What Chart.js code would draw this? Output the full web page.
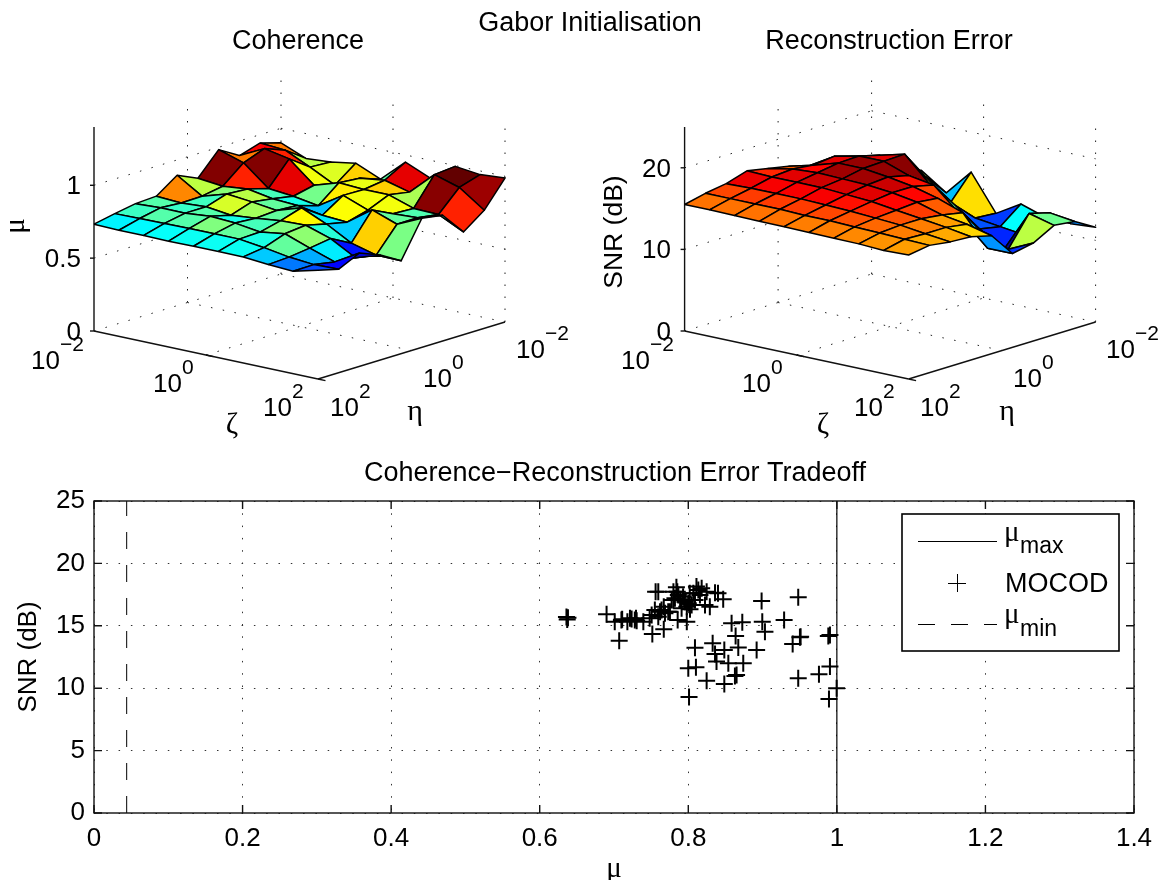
<!DOCTYPE html>
<html>
<head>
<meta charset="utf-8">
<script src="https://cdn.jsdelivr.net/npm/chart.js@4/dist/chart.umd.min.js"></script>
<style>
  html, body { margin: 0; padding: 0; background: #fff; }
  #page { position: relative; width: 1165px; height: 880px; overflow: hidden; }
  canvas { position: absolute; left: 0; }
</style>
</head>
<body>
<div id="page">
  <canvas id="coherence" width="1165" height="450" style="top:0"></canvas>
  <canvas id="snr3d" width="1165" height="450" style="top:0"></canvas>
  <canvas id="tradeoff" width="1165" height="430" style="top:450px"></canvas>
</div>
<script>
// rows run from eta = 10^2 (front) to eta = 10^-2 (back), columns from zeta = 10^-2 to 10^2
const coherenceRows = [
  [.733, .728, .729, .726, .728, .729, .728, .712, .703, .747],
  [.762, .765, .768, .770, .770, .770, .748, .720, .705, .710],
  [.787, .795, .795, .810, .800, .775, .800, .738, .680, .778],
  [.795, .785, .795, .774, .790, .810, .815, .760, .665, .720],
  [.895, .788, .840, .822, .800, .855, .780, .685, .640, .637],
  [.831, .813, .830, .800, .790, .760, .749, .870, .808, .886],
  [.984, .930, .790, .774, .745, .853, .788, .800, .810, .863],
  [.900, .984, .950, .806, .860, .850, .850, .793, .788, .705],
  [.943, .930, .850, .763, .847, .870, .825, .982, .930, .810],
  [.900, .830, .842, .870, .797, .950, .877, .995, .975, .988]
];
const snrRows = [
  [15.5, 15.5, 15.45, 15.4, 15.4, 15.35, 15.3, 15.25, 15.1, 15.2],
  [16.1, 16.1, 16.1, 16.1, 16.0, 16.0, 15.9, 15.8, 15.7, 15.6],
  [16.5, 16.6, 16.6, 16.6, 16.5, 16.4, 16.2, 16.0, 15.6, 15.25],
  [17.3, 17.2, 17.2, 17.2, 17.0, 16.8, 16.4, 16.0, 15.6, 15.1],
  [16.8, 17.4, 17.6, 17.5, 17.4, 17.1, 16.6, 15.7, 15.2, 14.45],
  [16.3, 17.1, 18.0, 18.0, 17.6, 17.1, 16.3, 15.2, 11.5, 11.5],
  [15.6, 17.4, 18.1, 18.1, 17.0, 16.5, 13.75, 11.8, 10.6, 12.0],
  [15.0, 16.6, 17.4, 18.2, 15.2, 13.3, 11.0, 9.2, 14.2, 13.4],
  [14.0, 14.0, 14.2, 14.66, 12.1, 10.9, 10.5, 10.1, 13.5, 13.1],
  [14.0, 14.0, 14.0, 11.9, 15.1, 10.7, 12.5, 11.5, 11.4, 11.6]
];
const coherenceTicks = [0, 0.5, 1];
const snrTicks = [0, 10, 20];

const mocodMu = [.636, .637, .638, .690, .711, .701, .718, .7215, .7296, .7305, .7395, .748, .7507, .755, .762, .767, .773,
  .756, .7596, .784, .780, .7866, .780, .789, .7955, .798, .8045, .811, .8135, .8157, .8225, .829, .836, .840, .847,
  .802, .793, .809, .782, .764, .7596, .728, .7237, .710, .707, .7516, .767, .7857, .798, .8987, .948, .8727, .8583,
  .8996, .929, .8637, .9032, .9503, .9512, .9405, .9885, .9907, .8328, .809, .8673, .892, .8485, .836, .838, .8539,
  .874, .800, .8103, .865, .8628, .8247, .8485, .948, .9759, .9907, .9997, .9894, .801,
  .7776, .7852, .800, .8068, .818, .8247, .791, .8023, .7753, .7686];
const mocodSnr = [15.7, 15.5, 15.65, 15.92, 15.52, 15.33, 15.33, 15.6, 15.6, 15.41, 15.33, 15.6, 15.86, 16.27, 16.13, 16.53, 16.13,
  17.73, 17.73, 18.08, 17.73, 17.47, 17.07, 17.07, 16.93, 16.53, 16.67, 18.14, 17.87, 17.47, 16.67, 16.53, 17.65, 17.6, 17.12,
  17.6, 17.33, 17.07, 17.2, 16.27, 15.73, 15.46, 15.55, 15.46, 13.81, 14.34, 14.72, 15.46, 15.33, 16.99, 17.28, 15.28, 15.2,
  15.33, 15.46, 14.18, 14.53, 14.08, 14.13, 13.54, 14.18, 14.26, 13.6, 13.25, 13.27, 13.06, 13.06, 12.74, 12.13, 12.0,
  12.0, 11.59, 11.67, 11.06, 10.98, 10.6, 10.34, 10.79, 11.11, 11.73, 9.99, 9.13, 9.3,
  17.07, 17.73, 16.8, 17.6, 18.0, 17.73, 16.4, 16.32, 16.13, 16.0];
const muMax = 1.0;
const muMin = 0.044;
const xTicks = [0, 0.2, 0.4, 0.6, 0.8, 1, 1.2, 1.4];
const yTicks = [0, 5, 10, 15, 20, 25];

const SANS = '"Liberation Sans", Arial, sans-serif';
const SERIF = '"Liberation Serif", serif';

function jet(t) {
  const c = v => Math.round(255 * Math.max(0, Math.min(1, v)));
  const r = c(1.5 - Math.abs(4 * t - 3));
  const g = c(1.5 - Math.abs(4 * t - 2));
  const b = c(1.5 - Math.abs(4 * t - 1));
  return 'rgb(' + r + ',' + g + ',' + b + ')';
}

function text(ctx, str, x, y, size, opts) {
  opts = opts || {};
  ctx.save();
  ctx.fillStyle = '#000';
  ctx.font = size + 'px ' + (opts.family || SANS);
  ctx.textAlign = opts.align || 'left';
  ctx.textBaseline = 'alphabetic';
  ctx.translate(x, y);
  if (opts.rotate) ctx.rotate(opts.rotate);
  ctx.fillText(str, 0, 0);
  ctx.restore();
}

function powerLabel(ctx, exp, x, y) {
  text(ctx, '10', x, y, 26);
  text(ctx, exp, x + 29, y - 18, 21);
}

// one 3D surface panel, axes are hidden and run in page pixels so the projection goes through the scales
function surfaceChart(id, rows, cfg) {
  const n = rows.length - 1;
  const project = (u, v, z) => ({
    x: cfg.left + (224 * u + 187 * v) / n,
    y: 331 + (48 * u - 57 * v) / n - 204 * z / cfg.zMax
  });
  const segment = (a, b, style) => Object.assign({
    data: [project(...a), project(...b)], fill: false, pointRadius: 0, borderColor: '#222', order: 1000
  }, style);
  const dotted = { borderWidth: 1, borderDash: [1.5, 10.5] };
  const solid = { borderWidth: 1.4, borderColor: '#111', order: 900 };

  const datasets = [];
  const zMax = cfg.zMax, mid = n / 2;
  [[[0, 0, 0], [0, n, 0]], [[0, n, 0], [n, n, 0]], [[mid, 0, 0], [mid, n, 0]], [[0, mid, 0], [n, mid, 0]],
   [[0, mid, 0], [0, mid, zMax]], [[0, n, 0], [0, n, zMax]], [[mid, n, 0], [mid, n, zMax]], [[n, n, 0], [n, n, zMax]]
  ].forEach(p => datasets.push(segment(p[0], p[1], dotted)));
  cfg.ticks.filter(t => t > 0).forEach(t => {
    datasets.push(segment([0, 0, t], [0, n, t], dotted));
    datasets.push(segment([0, n, t], [n, n, t], dotted));
  });
  datasets.push(segment([0, 0, 0], [0, 0, zMax], solid));
  datasets.push(segment([0, 0, 0], [n, 0, 0], solid));
  datasets.push(segment([n, 0, 0], [n, n, 0], solid));
  cfg.ticks.forEach(t => {
    const a = project(0, 0, t);
    datasets.push({ data: [{ x: a.x - 4, y: a.y }, a], fill: false, pointRadius: 0, borderColor: '#111', borderWidth: 1.4, order: 900 });
  });
  [[mid, 0], [n, 0]].forEach(p => datasets.push(segment([p[0], p[1], 0], [p[0] + 0.3, p[1], 0], solid)));

  // MATLAB colours a face from its low-zeta, low-eta corner, which is the far one on screen
  for (let j = 0; j < n; j++) {
    for (let i = 0; i < n; i++) {
      const corners = [[i, j], [i, j + 1], [i + 1, j + 1], [i + 1, j], [i, j]];
      const t = (rows[j + 1][i] - cfg.cMin) / (cfg.cMax - cfg.cMin);
      datasets.push({
        data: corners.map(c => project(c[0], c[1], rows[c[1]][c[0]])),
        fill: 'shape',
        backgroundColor: jet(t),
        borderColor: '#000',
        borderWidth: 1.5,
        borderJoinStyle: 'round',
        pointRadius: 0,
        tension: 0,
        order: 100 - (i - j)
      });
    }
  }

  const canvas = document.getElementById(id);
  return new Chart(canvas, {
    type: 'scatter',
    data: { datasets: datasets.map(d => Object.assign({ showLine: true, clip: false }, d)) },
    options: {
      responsive: false,
      animation: false,
      events: [],
      layout: { padding: 0 },
      plugins: { legend: { display: false }, tooltip: { enabled: false } },
      scales: {
        x: { type: 'linear', display: false, min: 0, max: canvas.width },
        y: { type: 'linear', display: false, min: 0, max: canvas.height, reverse: true }
      }
    },
    plugins: [{ id: 'panelText', afterDraw: chart => cfg.draw(chart.ctx, project) }]
  });
}

surfaceChart('coherence', coherenceRows, {
  left: 94, zMax: 1.4, ticks: coherenceTicks, cMin: 0.635, cMax: 0.985,
  draw(ctx, project) {
    text(ctx, 'Gabor Initialisation', 590, 31, 27, { align: 'center' });
    text(ctx, 'Coherence', 298, 49, 27, { align: 'center' });
    coherenceTicks.forEach(t => text(ctx, String(t), 81, project(0, 0, t).y + 9, 26, { align: 'right' }));
    powerLabel(ctx, '\u22122', 31, 369);
    powerLabel(ctx, '0', 153, 392);
    powerLabel(ctx, '2', 263, 416);
    powerLabel(ctx, '2', 330, 416);
    powerLabel(ctx, '0', 423, 387);
    powerLabel(ctx, '\u22122', 516, 358);
    text(ctx, '\u03b6', 232, 433, 30, { family: SERIF, align: 'center' });
    text(ctx, '\u03b7', 415, 420, 30, { family: SERIF, align: 'center' });
    text(ctx, '\u03bc', 24, 226, 29, { family: SERIF, align: 'center', rotate: -Math.PI / 2 });
  }
});

surfaceChart('snr3d', snrRows, {
  left: 684.6, zMax: 25, ticks: snrTicks, cMin: 9, cMax: 18.3,
  draw(ctx, project) {
    text(ctx, 'Reconstruction Error', 889, 49, 27, { align: 'center' });
    snrTicks.forEach(t => text(ctx, String(t), 671, project(0, 0, t).y + 9, 26, { align: 'right' }));
    powerLabel(ctx, '\u22122', 621, 369);
    powerLabel(ctx, '0', 742, 392);
    powerLabel(ctx, '2', 854, 416);
    powerLabel(ctx, '2', 920, 416);
    powerLabel(ctx, '0', 1013, 387);
    powerLabel(ctx, '\u22122', 1106, 358);
    text(ctx, '\u03b6', 823, 433, 30, { family: SERIF, align: 'center' });
    text(ctx, '\u03b7', 1007, 420, 30, { family: SERIF, align: 'center' });
    text(ctx, 'SNR (dB)', 622, 232, 26.5, { align: 'center', rotate: -Math.PI / 2 });
  }
});

const tradeoffPlugin = {
  id: 'tradeoffFrame',
  afterDraw(chart) {
    const ctx = chart.ctx, a = chart.chartArea, sx = chart.scales.x, sy = chart.scales.y;
    ctx.save();
    ctx.strokeStyle = '#111';
    ctx.lineWidth = 1.4;
    ctx.strokeRect(a.left, a.top, a.right - a.left, a.bottom - a.top);
    ctx.beginPath();
    xTicks.forEach(t => {
      const x = sx.getPixelForValue(t);
      ctx.moveTo(x, a.bottom); ctx.lineTo(x, a.bottom - 8);
      ctx.moveTo(x, a.top); ctx.lineTo(x, a.top + 8);
    });
    yTicks.forEach(t => {
      const y = sy.getPixelForValue(t);
      ctx.moveTo(a.left, y); ctx.lineTo(a.left + 8, y);
      ctx.moveTo(a.right, y); ctx.lineTo(a.right - 8, y);
    });
    ctx.stroke();

    // legend box
    ctx.fillStyle = '#fff';
    ctx.fillRect(902, 64, 217, 137);
    ctx.strokeStyle = '#000';
    ctx.lineWidth = 1.6;
    ctx.strokeRect(902, 64, 217, 137);
    ctx.lineWidth = 1;
    ctx.beginPath(); ctx.moveTo(918, 91.5); ctx.lineTo(997, 91.5); ctx.stroke();
    ctx.beginPath(); ctx.moveTo(957.5, 124); ctx.lineTo(957.5, 142); ctx.moveTo(948, 133.5); ctx.lineTo(966, 133.5); ctx.stroke();
    ctx.setLineDash([17, 16]);
    ctx.beginPath(); ctx.moveTo(918, 174.5); ctx.lineTo(997, 174.5); ctx.stroke();
    ctx.restore();

    text(ctx, '\u03bc', 1004, 91, 29, { family: SERIF });
    text(ctx, 'max', 1020, 103, 23);
    text(ctx, 'MOCOD', 1005, 142, 27);
    text(ctx, '\u03bc', 1004, 173, 29, { family: SERIF });
    text(ctx, 'min', 1020, 186, 23);

    text(ctx, 'Coherence\u2212Reconstruction Error Tradeoff', 615, 31, 27, { align: 'center' });
    text(ctx, '\u03bc', 614, 427, 29, { family: SERIF, align: 'center' });
    text(ctx, 'SNR (dB)', 36, 207, 26, { align: 'center', rotate: -Math.PI / 2 });
  }
};

new Chart(document.getElementById('tradeoff'), {
  type: 'scatter',
  data: {
    datasets: [
      {
        label: 'MOCOD',
        data: mocodMu.map((m, k) => ({ x: m, y: mocodSnr[k] })),
        pointStyle: 'cross', pointRadius: 8.5, pointBorderWidth: 2, pointBorderColor: '#000', borderColor: '#000',
        showLine: false
      },
      {
        label: 'mu max',
        data: [{ x: muMax, y: 0 }, { x: muMax, y: 25 }],
        showLine: true, pointRadius: 0, borderColor: '#000', borderWidth: 1.2
      },
      {
        label: 'mu min',
        data: [{ x: muMin, y: 0 }, { x: muMin, y: 25 }],
        showLine: true, pointRadius: 0, borderColor: '#000', borderWidth: 1, borderDash: [17, 16]
      }
    ]
  },
  options: {
    responsive: false,
    animation: false,
    events: [],
    layout: { padding: { top: 51, right: 31, left: 0, bottom: 0 } },
    plugins: { legend: { display: false }, tooltip: { enabled: false } },
    scales: {
      x: {
        type: 'linear', min: 0, max: 1.4,
        afterFit: s => { s.height = 67; },
        afterBuildTicks: s => { s.ticks = xTicks.map(v => ({ value: v })); },
        grid: { color: '#333', lineWidth: 1, drawTicks: false },
        border: { display: false, dash: [1.5, 10.8] },
        ticks: { color: '#000', padding: 10, maxRotation: 0, autoSkip: false, font: { family: SANS, size: 26 }, callback: v => String(v) }
      },
      y: {
        type: 'linear', min: 0, max: 25,
        afterFit: s => { s.width = 94; },
        afterBuildTicks: s => { s.ticks = yTicks.map(v => ({ value: v })); },
        grid: { color: '#333', lineWidth: 1, drawTicks: false },
        border: { display: false, dash: [1.5, 10.8] },
        ticks: { color: '#000', padding: 9, font: { family: SANS, size: 26 }, callback: v => String(v) }
      }
    }
  },
  plugins: [tradeoffPlugin]
});
</script>
</body>
</html>
